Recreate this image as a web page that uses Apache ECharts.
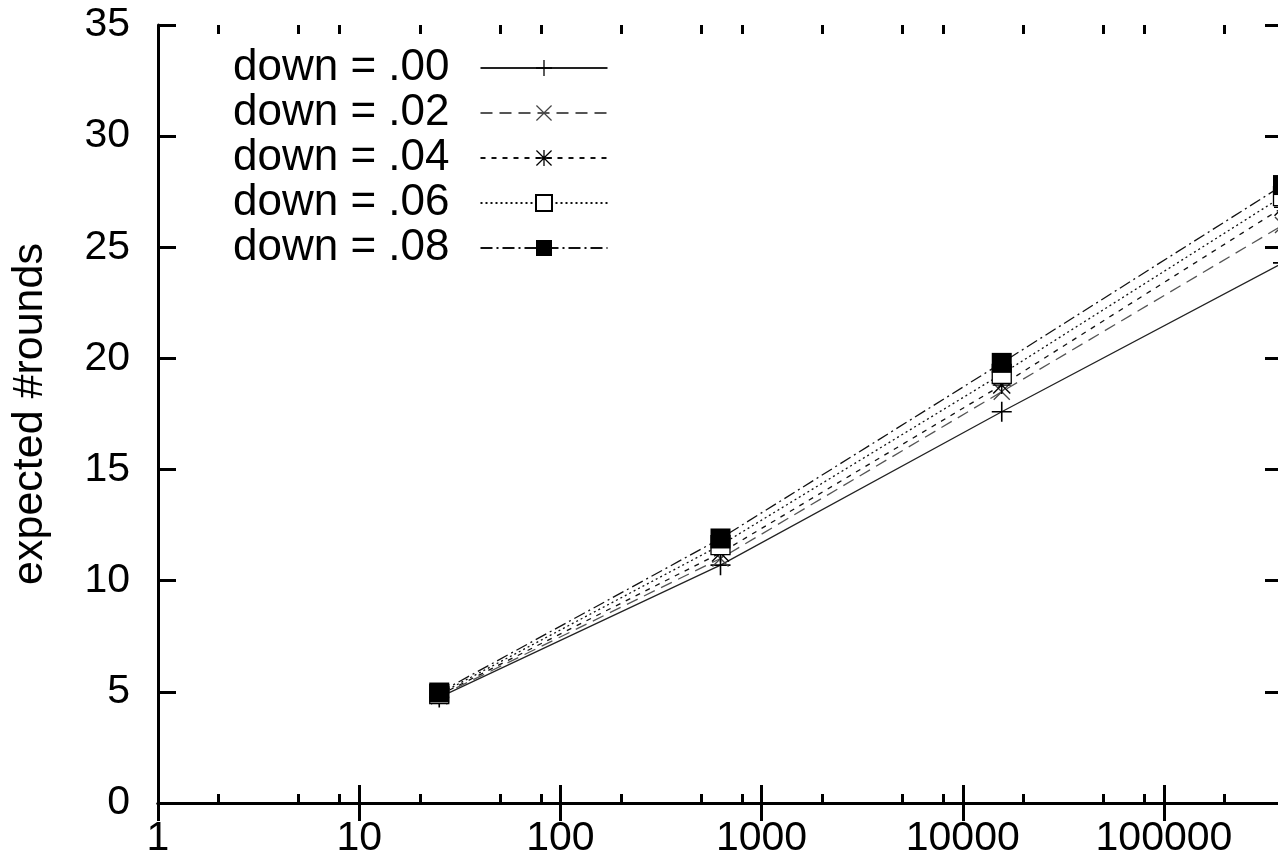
<!DOCTYPE html>
<html><head><meta charset="utf-8">
<script src="https://cdn.jsdelivr.net/npm/echarts@6/dist/echarts.min.js"></script>
<style>html,body{margin:0;padding:0;background:#fff}#c{width:1278px;height:866px}</style>
</head><body><div id="c"></div><script>
// ---- data ----
const sizes = [25, 625, 15625, 390625];
const seriesNames = ['down = .00', 'down = .02', 'down = .04', 'down = .06', 'down = .08'];
const down00 = [4.75, 10.7, 17.6, 24.3];
const down02 = [4.8, 11.0, 18.5, 26.0];
const down04 = [4.85, 11.25, 18.8, 26.8];
const down06 = [4.9, 11.6, 19.3, 27.3];
const down08 = [4.97, 11.9, 19.8, 27.8];
const xMajorTicks = [1, 10, 100, 1000, 10000, 100000];
const xMinorTicks = [2, 5, 8, 20, 50, 80, 200, 500, 800, 2000, 5000, 8000, 20000, 50000, 80000, 200000];
const yMin = 0, yMax = 35, yStep = 5;
const xMin = 1, xMax = 390625;
const yTitle = 'expected #rounds';

// ---- styles ----
const FONT = '"Liberation Sans", Arial, sans-serif';
const PLUS = 'path://M9.2,0H10.8V20H9.2Z M0,9.2H20V10.8H0Z';
const CROSS = 'path://M1.1,0L10,8.9L18.9,0L20,1.1L11.1,10L20,18.9L18.9,20L10,11.1L1.1,20L0,18.9L8.9,10L0,1.1Z';
const STAR = 'path://M9.2,0H10.8V20H9.2Z M0,9.2H20V10.8H0Z M1.1,0L10,8.9L18.9,0L20,1.1L11.1,10L20,18.9L18.9,20L10,11.1L1.1,20L0,18.9L8.9,10L0,1.1Z';
const styles = [
  {symbol: PLUS, size: 20, line: {color: '#222', width: 1.3, type: 'solid'}, item: {color: '#000'}},
  {symbol: CROSS, size: 17, line: {color: '#555', width: 1.3, type: [12, 7]}, item: {color: '#444'}},
  {symbol: STAR, size: 18, line: {color: '#111', width: 1.3, type: [5, 6]}, item: {color: '#000'}},
  {symbol: 'rect', size: 19, line: {color: '#111', width: 1.3, type: [2, 3]}, item: {color: '#fff', borderColor: '#000', borderWidth: 1.3}},
  {symbol: 'rect', size: 20, line: {color: '#111', width: 1.3, type: [12, 4, 2, 4]}, item: {color: '#000'}}
];
const values = [down00, down02, down04, down06, down08];

const axisLine = {show: true, lineStyle: {color: '#000', width: 3}};
function xAx(grid, pos, ticks, len, labels, line) {
  return {
    gridIndex: grid, type: 'log', logBase: 10, min: xMin, max: xMax, position: pos,
    axisLine: line ? axisLine : {show: false},
    axisTick: {show: true, inside: true, length: len, customValues: ticks, lineStyle: {color: '#000', width: 3}},
    axisLabel: labels ? {show: true, customValues: ticks, formatter: v => String(Math.round(v)),
      fontSize: 41, fontFamily: FONT, color: '#000', margin: 15} : {show: false},
    splitLine: {show: false}, minorTick: {show: false}
  };
}
function yAx(grid, pos, labels, show) {
  return {
    gridIndex: grid, type: 'value', min: yMin, max: yMax, interval: yStep, position: pos, show: show,
    axisLine: axisLine,
    axisTick: {show: true, inside: true, length: 18, lineStyle: {color: '#000', width: 3}},
    axisLabel: labels ? {show: true, fontSize: 41, fontFamily: FONT, color: '#000', margin: 28} : {show: false},
    splitLine: {show: false},
    name: labels ? yTitle : '', nameLocation: 'middle', nameRotate: 90, nameGap: 106,
    nameTextStyle: {fontSize: 43, fontFamily: FONT, color: '#000'}
  };
}

const gridBox = {left: 158, top: 25, bottom: 63, width: 1125, containLabel: false, outerBoundsMode: 'none'};
const chart = echarts.init(document.getElementById('c'), null, {renderer: 'canvas'});
chart.setOption({
  animation: false,
  backgroundColor: '#fff',
  grid: [Object.assign({}, gridBox), Object.assign({}, gridBox)],
  xAxis: [
    xAx(0, 'bottom', xMajorTicks, 18, true, true),
    xAx(0, 'top', xMajorTicks, 18, false, true),
    xAx(1, 'bottom', xMinorTicks, 9, false, false),
    xAx(1, 'top', xMinorTicks, 9, false, false)
  ],
  yAxis: [
    yAx(0, 'left', true, true),
    yAx(0, 'right', false, true),
    yAx(1, 'left', false, false)
  ],
  legend: {
    orient: 'vertical', left: 233, top: 45.5, align: 'right', padding: 0,
    itemWidth: 127, itemHeight: 20, itemGap: 0,
    textStyle: {fontSize: 44, fontFamily: FONT, color: '#000', lineHeight: 45, padding: [0, 26, 0, 0]},
    data: seriesNames
  },
  series: seriesNames.map((name, i) => ({
    name: name, type: 'line', xAxisIndex: 0, yAxisIndex: 0,
    data: sizes.map((x, j) => [x, values[i][j]]),
    symbol: styles[i].symbol, symbolSize: styles[i].size, showSymbol: true, showAllSymbol: true,
    lineStyle: styles[i].line, itemStyle: styles[i].item, clip: false, z: 2 + i
  }))
});
</script></body></html>
